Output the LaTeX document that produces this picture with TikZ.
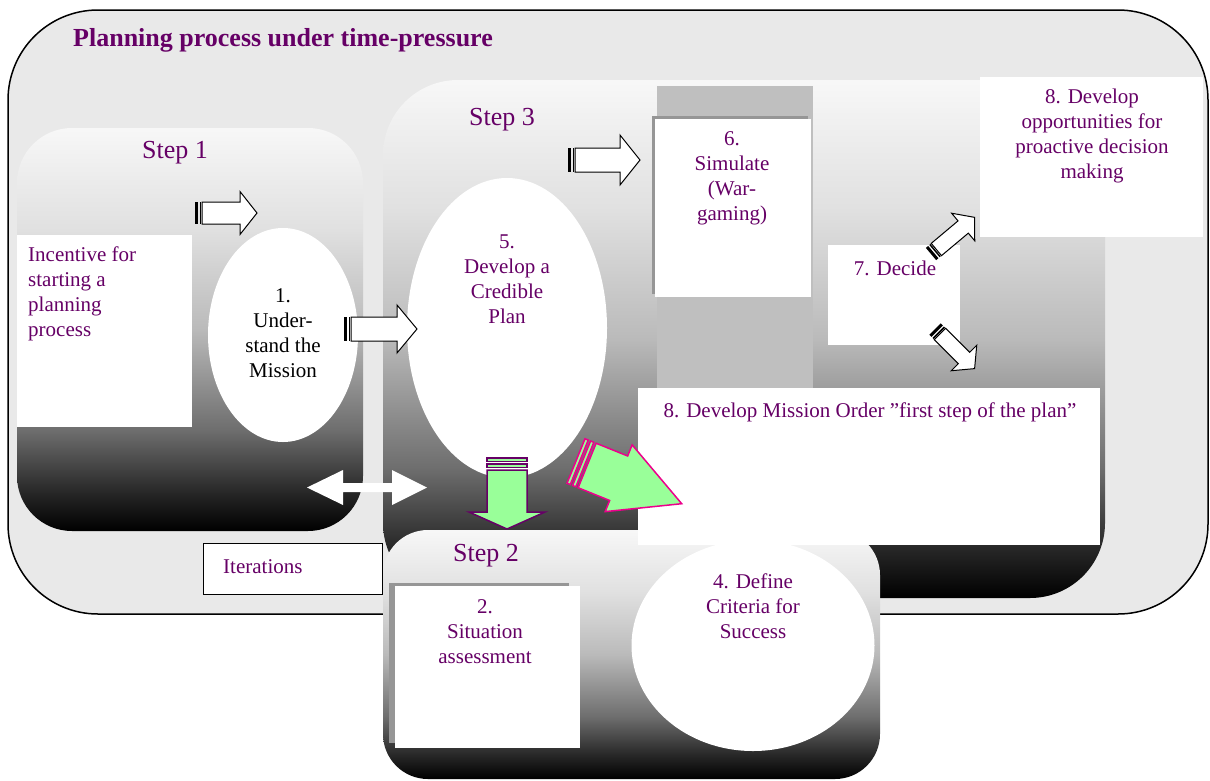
\documentclass[tikz,border=0pt]{standalone}
\usepackage{fontspec}
\setmainfont{Liberation Serif}
\newfontfamily\planfont{Liberation Serif}
\usetikzlibrary{shapes.geometric}

\definecolor{planpurple}{RGB}{102,0,102}
\definecolor{outerfill}{RGB}{233,233,233}
\definecolor{arrowgreen}{RGB}{153,255,153}
\definecolor{simgray}{RGB}{191,191,191}
\definecolor{shadowgray}{RGB}{150,150,150}

\pgfdeclareverticalshading{stepfade}{100bp}{color(0bp)=(black); color(25bp)=(black);
  color(30bp)=(black!84); color(37.5bp)=(black!57); color(50bp)=(black!27);
  color(62.5bp)=(black!12); color(75bp)=(black!3); color(100bp)=(black!3)}

% hollow arrow with striped tail: tail, angle, length, shaft, head, head length
\newcommand{\stripedarrow}[6]{%
  \begin{scope}[shift={#1}, rotate=#2]
    \fill[black] (0,-#4) rectangle (3,#4);
    \fill[black] (4.5,-#4) rectangle (6,#4);
    \draw[black, fill=white, line width=1pt] (7,-#4) -- (#3-#6,-#4) -- (#3-#6,-#5)
      -- (#3,0) -- (#3-#6,#5) -- (#3-#6,#4) -- (7,#4) -- cycle;
  \end{scope}}
% green arrow: tail, angle, length, shaft, head, head length, outline
\newcommand{\greenarrow}[7]{%
  \begin{scope}[shift={#1}, rotate=#2, draw=#7, fill=arrowgreen, line width=1.5pt]
    \filldraw (0,-#4) rectangle (3.5,#4);
    \filldraw (6,-#4) rectangle (9.5,#4);
    \filldraw (12,-#4) -- (#3-#6,-#4) -- (#3-#6,-#5)
      -- (#3,0) -- (#3-#6,#5) -- (#3-#6,#4) -- (12,#4) -- cycle;
  \end{scope}}

\tikzset{
  steplabel/.style={text=planpurple, font=\planfont\fontsize{26}{30}\selectfont, inner sep=0pt},
  bodytext/.style={text=planpurple, font=\planfont\fontsize{21}{25}\selectfont, align=center, inner sep=0pt},
  whitebox/.style={fill=white, draw=none, inner sep=0pt},
  whiteoval/.style={ellipse, fill=white, draw=none, inner sep=0pt},
}

\begin{document}
\begin{tikzpicture}[x=1pt, y=-1pt]
    \useasboundingbox (0,0) rectangle (1210,780);

    % outer frame
    \draw[fill=outerfill, line width=1.5pt, rounded corners=90pt] (8,10) rectangle (1208,614);
    \node[anchor=west, text=planpurple, inner sep=0pt, font=\planfont\fontsize{26}{30}\selectfont\bfseries] (title) at (73,40) {Planning process under time-pressure};

    % step areas
    \shade[shading=stepfade, rounded corners=55pt] (17,128) rectangle (363,531);
    \shade[shading=stepfade, rounded corners=75pt] (383,80) rectangle (1105,598);
    \fill[simgray] (657,86) rectangle (813,389);
    \node[steplabel] (step1) at (175,153) {Step 1};
    \node[steplabel] (step3) at (502,120) {Step 3};

    \node[whitebox, minimum width=175pt, minimum height=192pt] (incentive) at (104.5,331) {};
    \node[bodytext, anchor=west, align=left] (incentivetext) at (28,293.5) {Incentive for\\starting a\\planning\\process};

    \node[whiteoval, minimum width=150pt, minimum height=214pt] (mission) at (283,335) {};
    \node[bodytext, text=black] (missiontext) at (283,333) {1.\\Under-\\stand the\\Mission};

    \node[whiteoval, minimum width=200pt, minimum height=300pt] (plan) at (507,328) {};
    \node[bodytext] (plantext) at (507,279) {5.\\Develop a\\Credible\\Plan};

    \fill[shadowgray] (652,116) rectangle (808,294);
    \node[whitebox, minimum width=156pt, minimum height=178pt] (simulate) at (733,208) {};
    \node[bodytext] (simulatetext) at (732,178) {6.\\Simulate\\(War-\\gaming)};

    \node[whitebox, minimum width=132pt, minimum height=100pt] (decide) at (894,295) {};
    \node[bodytext] (decidetext) at (895,268) {7. Decide};

    \node[whitebox, minimum width=223pt, minimum height=160pt] (proactive) at (1091.5,157) {};
    \node[bodytext] (proactivetext) at (1092,136) {8. Develop\\opportunities for\\proactive decision\\making};

    % step 2
    \shade[shading=stepfade, rounded corners=45pt] (383,530) rectangle (880,779);
    \node[steplabel] (step2) at (486,556) {Step 2};

    \node[whitebox, minimum width=462pt, minimum height=157pt] (order) at (869,466.5) {};
    \node[bodytext] (ordertext) at (870,412) {8. Develop Mission Order ”first step of the plan”};

    \node[whiteoval, minimum width=243pt, minimum height=211pt] (criteria) at (753,645.5) {};
    \node[bodytext] (criteriatext) at (753,606) {4. Define\\Criteria for\\Success};

    \fill[shadowgray] (389,583) rectangle (569,743);
    \node[whitebox, minimum width=185pt, minimum height=162pt] (situation) at (487.5,667) {};
    \node[bodytext] (situationtext) at (485,632) {2.\\Situation\\assessment};

    \node[whitebox, draw=black, line width=1pt, minimum width=179pt, minimum height=51pt] (iterations) at (292.5,568.5) {};
    \node[bodytext, anchor=west] (iterationstext) at (223,567) {Iterations};

    % arrows
    \stripedarrow{(195,213)}{0}{62}{11}{21.5}{17}
    \stripedarrow{(344,329)}{0}{73}{12}{24}{20}
    \stripedarrow{(568,160)}{0}{72}{12}{25}{20}
    \stripedarrow{(931,254)}{40}{57}{8}{18}{15}
    \stripedarrow{(935,329)}{-45}{56}{8}{18}{15}

    \fill[white] (307,487.5) -- (343,470) -- (343,483) -- (392,483) -- (392,470) -- (427,487.5)
      -- (392,505) -- (392,492) -- (343,492) -- (343,505) -- cycle;

    \greenarrow{(507,458)}{-90}{71}{20}{38}{17}{planpurple}
    \greenarrow{(576,461)}{-22}{114}{24}{36}{68}{magenta}
\end{tikzpicture}
\end{document}
